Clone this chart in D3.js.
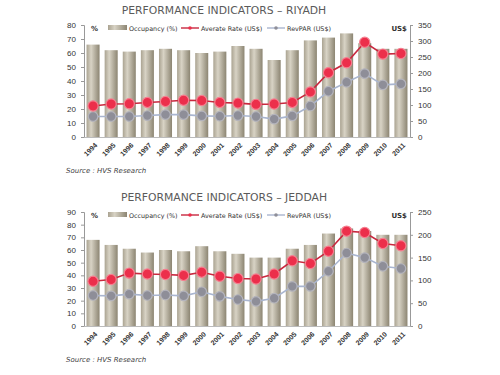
<!DOCTYPE html>
<html>
<head>
<meta charset="utf-8">
<script src="https://cdn.jsdelivr.net/npm/d3@7"></script>
<style>
body { margin: 0; background: #fff; }
svg { font-family: "DejaVu Sans", sans-serif; }
</style>
</head>
<body>
<div id="chart-area"></div>
<script>
var years = ["1994","1995","1996","1997","1998","1999","2000","2001","2002","2003","2004","2005","2006","2007","2008","2009","2010","2011"];

// Riyadh
var riyadhOcc  = [66, 62, 61, 62, 63, 62, 60, 61, 65, 63, 55, 62, 69, 71, 74, 67, 63, 63];
var riyadhRate = [97, 103, 104, 108, 111, 115, 114, 108, 106, 102, 103, 108, 141, 201, 232, 296, 259, 261];
var riyadhRev  = [64, 64, 64, 67, 70, 70, 66, 65, 67, 64, 56, 66, 97, 143, 171, 198, 163, 166];
var riyadhLeftTicks = [0, 10, 20, 30, 40, 50, 60, 70, 80];
var riyadhRightTicks = [0, 50, 100, 150, 200, 250, 300, 350];

// Jeddah
var jeddahOcc  = [68, 64, 61, 58, 60, 59, 63, 59, 57, 54, 54, 61, 64, 73, 77, 75, 72, 72];
var jeddahRate = [98, 102, 116, 114, 113, 111, 118, 109, 104, 103, 114, 143, 137, 164, 208, 205, 181, 176];
var jeddahRev  = [67, 66, 70, 67, 68, 66, 75, 65, 58, 54, 61, 87, 87, 120, 160, 150, 131, 126];
var jeddahLeftTicks = [0, 10, 20, 30, 40, 50, 60, 70, 80, 90];
var jeddahRightTicks = [0, 50, 100, 150, 200, 250];

var svg = d3.select("#chart-area").append("svg")
    .attr("width", 500)
    .attr("height", 375);

var defs = svg.append("defs");
var grad = defs.append("linearGradient")
    .attr("id", "barGrad")
    .attr("x1", "0").attr("x2", "1").attr("y1", "0").attr("y2", "0");
grad.append("stop").attr("offset", "0%").attr("stop-color", "#aaa391");
grad.append("stop").attr("offset", "35%").attr("stop-color", "#d8d3c5");
grad.append("stop").attr("offset", "100%").attr("stop-color", "#8c8572");

function drawChart(cfg) {
    var left = 84, right = 410;
    var x = d3.scaleBand()
        .domain(years)
        .range([left, right])
        .paddingInner(0.28)
        .paddingOuter(0.14);

    var yL = d3.scaleLinear()
        .domain([0, d3.max(cfg.leftTicks)])
        .range([cfg.bottom, cfg.top]);
    var yR = d3.scaleLinear()
        .domain([0, d3.max(cfg.rightTicks)])
        .range([cfg.bottom, cfg.top]);

    var g = svg.append("g");

    // title
    g.append("text")
        .attr("x", 224)
        .attr("y", cfg.titleY)
        .attr("text-anchor", "middle")
        .attr("font-size", "10.8px")
        .style("fill", "#5a5a5a")
        .text(cfg.title);

    // bars
    g.selectAll("rect.bar")
        .data(cfg.occ)
        .enter()
        .append("rect")
        .attr("class", "bar")
        .attr("x", (d, i) => { return x(years[i]); })
        .attr("y", (d) => { return yL(d); })
        .attr("width", x.bandwidth())
        .attr("height", (d) => { return cfg.bottom - yL(d); })
        .attr("fill", "url(#barGrad)");

    // axes
    var leftAxis = d3.axisLeft(yL).tickValues(cfg.leftTicks).tickSize(3).tickPadding(5);
    var la = g.append("g")
        .attr("transform", "translate(" + left + ",0)")
        .call(leftAxis);
    var rightAxis = d3.axisRight(yR).tickValues(cfg.rightTicks).tickSize(3).tickPadding(5);
    var ra = g.append("g")
        .attr("transform", "translate(" + right + ",0)")
        .call(rightAxis);
    var bottomAxis = d3.axisBottom(x).tickSize(0);
    var ba = g.append("g")
        .attr("transform", "translate(0," + cfg.bottom + ")")
        .call(bottomAxis);
    ba.selectAll("text")
        .attr("text-anchor", "end")
        .attr("y", 0)
        .attr("dy", "0.35em")
        .attr("transform", "translate(3,7) rotate(-45)")
        .attr("font-weight", "bold")
        .attr("font-size", "7px")
        .style("fill", "#333");
    [la, ra].forEach((a) => {
        a.selectAll("text").attr("font-size", "8px").style("fill", "#333");
    });
    [la, ra, ba].forEach((a) => {
        a.select(".domain").attr("stroke", "#999");
        a.selectAll(".tick line").attr("stroke", "#999");
    });
    ba.select(".domain").attr("stroke", "#bbb");

    // lines
    var lineRate = d3.line()
        .x((d, i) => { return x(years[i]) + x.bandwidth() / 2; })
        .y((d) => { return yR(d); });

    g.append("path")
        .datum(cfg.rev)
        .attr("d", lineRate)
        .attr("fill", "none")
        .attr("stroke", "#a9b5cf")
        .attr("stroke-width", 1.6);
    g.selectAll("circle.rev")
        .data(cfg.rev)
        .enter()
        .append("circle")
        .attr("class", "rev")
        .attr("cx", (d, i) => { return x(years[i]) + x.bandwidth() / 2; })
        .attr("cy", (d) => { return yR(d); })
        .attr("r", 4.8)
        .attr("fill", "#8e8e98")
        .attr("stroke", "#b4b4bc")
        .attr("stroke-width", 1.2);

    g.append("path")
        .datum(cfg.rate)
        .attr("d", lineRate)
        .attr("fill", "none")
        .attr("stroke", "#c8283e")
        .attr("stroke-width", 1.6);
    g.selectAll("circle.rate")
        .data(cfg.rate)
        .enter()
        .append("circle")
        .attr("class", "rate")
        .attr("cx", (d, i) => { return x(years[i]) + x.bandwidth() / 2; })
        .attr("cy", (d) => { return yR(d); })
        .attr("r", 5.1)
        .attr("fill", "#ec2f4b")
        .attr("stroke", "#f57f90")
        .attr("stroke-width", 1.2);

    // legend
    var ly = cfg.legendY;
    g.append("text").attr("x", 91).attr("y", ly + 3)
        .attr("font-size", "7px").attr("font-weight", "bold").style("fill", "#333").text("%");
    g.append("rect").attr("x", 108).attr("y", ly - 3).attr("width", 19).attr("height", 5)
        .attr("fill", "url(#barGrad)");
    g.append("text").attr("x", 129).attr("y", ly + 2.5)
        .attr("font-size", "6.4px").style("fill", "#333").text("Occupancy (%)");
    g.append("line").attr("x1", 181).attr("x2", 199).attr("y1", ly).attr("y2", ly)
        .attr("stroke", "#c8283e").attr("stroke-width", 1.4);
    g.append("circle").attr("cx", 190).attr("cy", ly).attr("r", 1.8).attr("fill", "#ec2f4b");
    g.append("text").attr("x", 201).attr("y", ly + 2.5)
        .attr("font-size", "6.4px").style("fill", "#333").text("Averate Rate (US$)");
    g.append("line").attr("x1", 267).attr("x2", 285).attr("y1", ly).attr("y2", ly)
        .attr("stroke", "#a9b5cf").attr("stroke-width", 1.4);
    g.append("circle").attr("cx", 276).attr("cy", ly).attr("r", 1.8).attr("fill", "#8e8e98");
    g.append("text").attr("x", 287).attr("y", ly + 2.5)
        .attr("font-size", "6.4px").style("fill", "#333").text("RevPAR (US$)");
    g.append("text").attr("x", 407).attr("y", ly + 3).attr("text-anchor", "end")
        .attr("font-size", "7px").attr("font-weight", "bold").style("fill", "#333").text("US$");

    // source
    g.append("text")
        .attr("x", 66)
        .attr("y", cfg.sourceY)
        .attr("font-size", "7px")
        .attr("font-style", "italic")
        .style("fill", "#444")
        .text("Source : HVS Research");
}

drawChart({
    title: "PERFORMANCE INDICATORS \u2013 RIYADH",
    titleY: 14,
    legendY: 28,
    top: 25,
    bottom: 137,
    sourceY: 173,
    occ: riyadhOcc, rate: riyadhRate, rev: riyadhRev,
    leftTicks: riyadhLeftTicks, rightTicks: riyadhRightTicks
});

drawChart({
    title: "PERFORMANCE INDICATORS \u2013 JEDDAH",
    titleY: 201,
    legendY: 215,
    top: 212,
    bottom: 326,
    sourceY: 362,
    occ: jeddahOcc, rate: jeddahRate, rev: jeddahRev,
    leftTicks: jeddahLeftTicks, rightTicks: jeddahRightTicks
});
</script>
</body>
</html>
